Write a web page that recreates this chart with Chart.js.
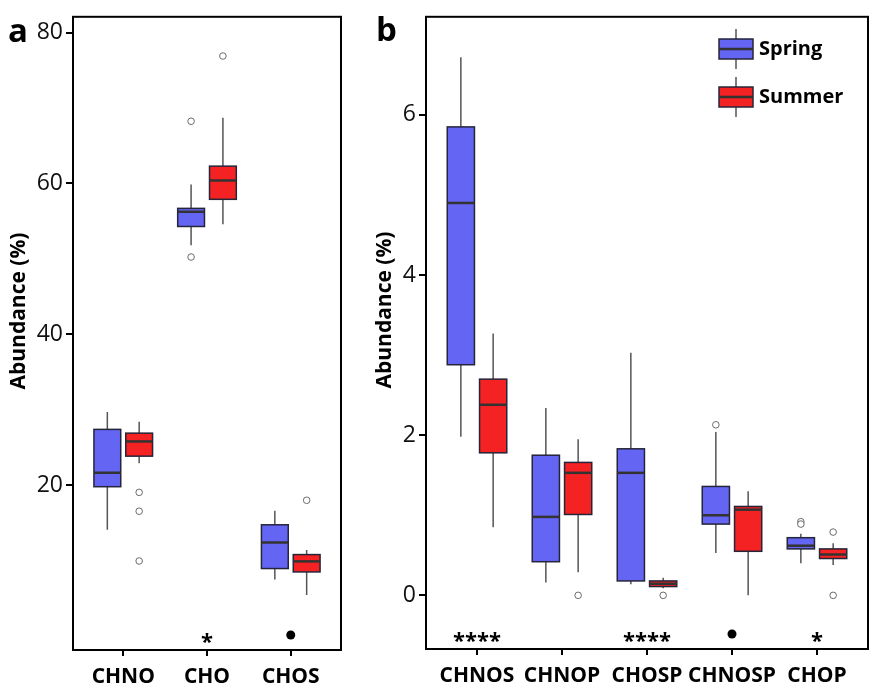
<!DOCTYPE html>
<html>
<head>
<meta charset="utf-8">
<script src="https://cdn.jsdelivr.net/npm/chart.js@4.4.0/dist/chart.umd.min.js"></script>
<style>
  html, body { margin: 0; padding: 0; background: #fff; }
  #wrap { position: relative; width: 873px; height: 690px; overflow: hidden; }
  #panelA { position: absolute; left: 0; top: 0; }
  #panelB { position: absolute; left: 360px; top: 0; }
</style>
</head>
<body>
<div id="wrap">
  <canvas id="panelA" width="350" height="690"></canvas>
  <canvas id="panelB" width="513" height="690"></canvas>
</div>
<script>
// --- Data: each box is [lower whisker, Q1, median, Q3, upper whisker] ---
const catsA = ['CHNO', 'CHO', 'CHOS'];
const springA = [[14.1, 19.8, 21.65, 27.4, 29.7], [51.8, 54.3, 56.25, 56.7, 59.85], [7.5, 8.95, 12.4, 14.75, 16.6]];
const summerA = [[22.9, 23.85, 25.8, 26.9, 28.4], [54.6, 57.9, 60.4, 62.3, 68.7], [5.45, 8.5, 9.9, 10.8, 11.4]];
const springOutA = [[], [68.25, 50.25], []];
const summerOutA = [[19.05, 16.55, 9.95], [76.9], [18.0]];
const sigA = ['', '*', '•'];
const yTicksA = [20, 40, 60, 80];

const catsB = ['CHNOS', 'CHNOP', 'CHOSP', 'CHNOSP', 'CHOP'];
const springB = [[1.98, 2.88, 4.90, 5.85, 6.72], [0.16, 0.42, 0.98, 1.75, 2.34], [0.14, 0.18, 1.53, 1.83, 3.03], [0.53, 0.89, 1.00, 1.36, 2.04], [0.40, 0.58, 0.62, 0.72, 0.77]];
const summerB = [[0.85, 1.78, 2.38, 2.70, 3.27], [0.29, 1.01, 1.53, 1.66, 1.95], [0.09, 0.11, 0.145, 0.18, 0.22], [0, 0.55, 1.07, 1.11, 1.30], [0.38, 0.46, 0.51, 0.58, 0.65]];
const springOutB = [[], [], [], [2.13], [0.92, 0.89]];
const summerOutB = [[], [0], [0], [], [0.79, 0]];
const sigB = ['****', '', '****', '•', '*'];
const yTicksB = [0, 2, 4, 6];

const seriesNames = ['Spring', 'Summer'];

// --- Styling ---
const FONT = '"Open Sans", "DejaVu Sans", sans-serif';
const FILLS = ['#6565f4', '#f42222'];
const DODGE = 0.19;
const BOX_W = 0.32;

// build scatter points for the outliers
const outlierPoints = (lists, off) =>
  lists.flatMap((vals, i) => vals.map(v => ({ x: i + 1 + off, y: v })));

// draws one box glyph (whiskers, box, median) at pixel coords
const drawBox = (ctx, cx, half, pLo, pQ1, pMed, pQ3, pHi, fill) => {
  ctx.strokeStyle = '#555';
  ctx.lineWidth = 1.5;
  ctx.beginPath();
  ctx.moveTo(cx, pHi); ctx.lineTo(cx, pQ3);
  ctx.moveTo(cx, pQ1); ctx.lineTo(cx, pLo);
  ctx.stroke();
  ctx.fillStyle = fill;
  ctx.fillRect(cx - half, pQ3, 2 * half, pQ1 - pQ3);
  ctx.strokeStyle = '#25253a';
  ctx.lineWidth = 1.5;
  ctx.strokeRect(cx - half, pQ3, 2 * half, pQ1 - pQ3);
  ctx.strokeStyle = '#333';
  ctx.lineWidth = 2.5;
  ctx.beginPath();
  ctx.moveTo(cx - half, pMed); ctx.lineTo(cx + half, pMed);
  ctx.stroke();
};

// boxes go under the outlier points
const makeBoxPlugin = (spring, summer) => ({
  id: 'boxes',
  beforeDatasetsDraw(chart) {
    const { ctx, scales: { x, y } } = chart;
    ctx.save();
    [[spring, -DODGE, FILLS[0]], [summer, DODGE, FILLS[1]]].forEach(([stats, off, fill]) => {
      stats.forEach((s, i) => {
        const cx = x.getPixelForValue(i + 1 + off);
        const half = x.getPixelForValue(i + 1 + off + BOX_W / 2) - cx;
        const p = s.map(v => y.getPixelForValue(v));
        drawBox(ctx, cx, half, p[0], p[1], p[2], p[3], p[4], fill);
      });
    });
    ctx.restore();
  }
});

// frame, panel letter, y title, significance marks, optional legend
const makeDecorPlugin = (cfg) => ({
  id: 'decor',
  afterDraw(chart) {
    const { ctx, chartArea: a, scales: { x } } = chart;
    ctx.save();
    ctx.strokeStyle = '#000';
    ctx.lineWidth = 2;
    ctx.strokeRect(a.left, a.top, a.right - a.left, a.bottom - a.top);

    ctx.fillStyle = '#000';
    ctx.font = `bold 33px ${FONT}`;
    ctx.textAlign = 'left';
    ctx.textBaseline = 'alphabetic';
    ctx.fillText(cfg.letter, cfg.letterX, cfg.letterY);

    ctx.save();
    ctx.translate(cfg.titleX, cfg.titleY);
    ctx.rotate(-Math.PI / 2);
    ctx.font = `bold 21px ${FONT}`;
    ctx.textAlign = 'center';
    ctx.textBaseline = 'middle';
    ctx.fillText('Abundance (%)', 0, 0);
    ctx.restore();

    ctx.font = `bold 22px ${FONT}`;
    ctx.textAlign = 'center';
    cfg.sig.forEach((s, i) => {
      const cx = x.getPixelForValue(i + 1);
      if (s === '•') {
        ctx.beginPath();
        ctx.arc(cx, a.bottom - 15, 4.5, 0, Math.PI * 2);
        ctx.fill();
      } else if (s) {
        ctx.fillText(s, cx, a.bottom - 1);
      }
    });

    if (cfg.legend) {
      const lx = cfg.legend.x, half = 17;
      cfg.legend.rows.forEach((cy, k) => {
        drawBox(ctx, lx, half, cy + 20, cy + 10, cy, cy - 10, cy - 20, FILLS[k]);
        ctx.fillStyle = '#000';
        ctx.font = `bold 20px ${FONT}`;
        ctx.textAlign = 'left';
        ctx.textBaseline = 'middle';
        ctx.fillText(seriesNames[k], lx + 23, cy);
      });
    }
    ctx.restore();
  }
});

const makePanel = (canvasId, o) => {
  const tickGrid = { drawOnChartArea: false, drawTicks: true, tickLength: 7, color: '#000', lineWidth: 2 };
  return new Chart(document.getElementById(canvasId), {
    type: 'scatter',
    data: {
      datasets: [o.springOut, o.summerOut].map((lists, k) => ({
        label: seriesNames[k],
        data: outlierPoints(lists, k === 0 ? -DODGE : DODGE),
        pointRadius: 3.3,
        pointBackgroundColor: '#fff',
        pointBorderColor: '#6a6a6a',
        pointBorderWidth: 1,
      })),
    },
    options: {
      responsive: false,
      devicePixelRatio: 1,
      animation: false,
      layout: { padding: o.padding },
      plugins: { legend: { display: false }, tooltip: { enabled: false } },
      scales: {
        x: {
          type: 'linear',
          min: 0.4,
          max: o.cats.length + 0.6,
          afterBuildTicks: s => { s.ticks = o.cats.map((c, i) => ({ value: i + 1 })); },
          afterFit: s => { s.height = o.xHeight; },
          ticks: {
            callback: (v, i) => o.cats[i],
            font: { family: FONT, size: 21, weight: 'bold' },
            color: '#000',
            padding: 8,
            autoSkip: false,
            maxRotation: 0,
          },
          grid: { ...tickGrid, tickLength: 6 },
          border: { display: false },
        },
        y: {
          min: o.yMin,
          max: o.yMax,
          afterBuildTicks: s => { s.ticks = o.yTicks.map(v => ({ value: v })); },
          afterFit: s => { s.width = o.yWidth; },
          ticks: { font: { family: FONT, size: 23 }, color: '#111', padding: 3 },
          grid: tickGrid,
          border: { display: false },
        },
      },
    },
    plugins: [makeBoxPlugin(o.spring, o.summer), makeDecorPlugin(o.decor)],
  });
};

makePanel('panelA', {
  cats: catsA, spring: springA, summer: summerA, springOut: springOutA, summerOut: summerOutA,
  yTicks: yTicksA, yMin: -1.85, yMax: 82.1,
  padding: { top: 14, right: 9, left: 0, bottom: 0 }, yWidth: 73, xHeight: 40,
  decor: { letter: 'a', letterX: 8, letterY: 42, titleX: 19, titleY: 311, sig: sigA },
});

makePanel('panelB', {
  cats: catsB, spring: springB, summer: summerB, springOut: springOutB, summerOut: summerOutB,
  yTicks: yTicksB, yMin: -0.67, yMax: 7.225,
  padding: { top: 13, right: 1, left: 0, bottom: 0 }, yWidth: 66, xHeight: 41,
  decor: { letter: 'b', letterX: 16, letterY: 41, titleX: 25, titleY: 310, sig: sigB,
           legend: { x: 376, rows: [49, 97] } },
});
</script>
</body>
</html>
